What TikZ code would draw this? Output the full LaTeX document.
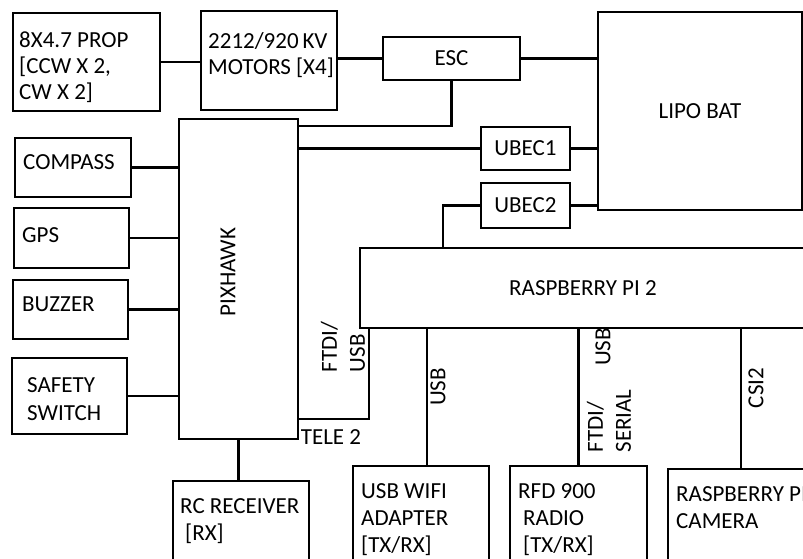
\documentclass[tikz,border=0pt]{standalone}
\usepackage{fontspec}
\setmainfont{Carlito}
\usetikzlibrary{calc}
\usetikzlibrary{positioning}

\begin{document}
\begin{tikzpicture}[x=1pt,y=-1pt,
    every node/.style={font=\fontsize{23}{26}\selectfont},
    blk/.style={draw, line width=2pt, anchor=north west, inner sep=0pt},
    txt/.style={anchor=north west, align=left, inner sep=0pt},
    side/.style={rotate=90, align=left, inner sep=0pt, font=\fontsize{23}{28}\selectfont},
    wire/.style={line width=2.6pt}]
                \useasboundingbox (0,0) rectangle (803,559);
                \clip (0,0) rectangle (803,559);
                % boxes
                \node[blk, minimum width=147pt, minimum height=98pt] (prop) at (12,12) {};
                \node[blk, minimum width=136pt, minimum height=99pt] (motors) at (200,10) {};
                \node[blk, minimum width=137pt, minimum height=43pt] (esc) at (382,36) {ESC};
                \node[blk, minimum width=204pt, minimum height=198pt] (lipo) at (597,11) {LIPO BAT};
                \node[blk, minimum width=89pt, minimum height=43pt] (ubec1) at (480,126) {UBEC1};
                \node[blk, minimum width=89pt, minimum height=45pt] (ubec2) at (480,182) {UBEC2};
                \node[blk, minimum width=119pt, minimum height=320pt] (pix) at (178,118) {};
                \node[blk, minimum width=116pt, minimum height=59pt] (compass) at (14,137) {};
                \node[blk, minimum width=115pt, minimum height=60pt] (gps) at (13,207) {};
                \node[blk, minimum width=115pt, minimum height=59pt] (buzzer) at (12,279) {};
                \node[blk, minimum width=115pt, minimum height=76pt] (safety) at (11,357) {};
                \node[blk, minimum width=446pt, minimum height=80pt] (rpi) at (359,247) {RASPBERRY PI 2};
                \node[blk, minimum width=136pt, minimum height=100pt] (rc) at (172,480) {};
                \node[blk, minimum width=136pt, minimum height=100pt] (wifi) at (352,465) {};
                \node[blk, minimum width=137pt, minimum height=100pt] (rfd) at (509,465) {};
                \node[blk, minimum width=146pt, minimum height=100pt] (cam) at (667,468) {};
                % box texts
                \node[txt] (propt) at (19,32) {8X4.7 PROP\\{}[CCW X 2,\\CW X 2]};
                \node[txt] (motorst) at (208,32) {2212/920\,KV\\MOTORS [X4]};
                \node[txt] (compasst) at (23,154) {COMPASS};
                \node[txt] (gpst) at (22,227) {GPS};
                \node[txt] (buzzert) at (22,297) {BUZZER};
                \node[txt, font=\fontsize{23}{28}\selectfont] (safetyt) at (27,377) {SAFETY\\SWITCH};
                \node[rotate=90, inner sep=0pt] (pixt) at (228,272) {PIXHAWK};
                \node[txt, font=\fontsize{23}{27}\selectfont] (rct) at (180,498) {RC RECEIVER\\\hspace*{5pt}[RX]};
                \node[txt, font=\fontsize{23}{27}\selectfont] (wifit) at (361,483) {USB WIFI\\ADAPTER\\{}[TX/RX]};
                \node[txt, font=\fontsize{23}{27}\selectfont] (rfdt) at (518,483) {RFD 900\\\hspace*{5pt}RADIO\\\hspace*{5pt}[TX/RX]};
                \node[txt, font=\fontsize{23}{27}\selectfont] (camt) at (676,486) {RASPBERRY PI\\CAMERA};
                % links
                \draw[wire] (prop.east) -- (prop.east -| motors.west);
                \draw[wire] (motors.east |- esc.west) -- (esc.west);
                \draw[wire] (esc.east) -- (esc.east -| lipo.west);
                \draw[wire] (esc.south) |- ([yshift=-8pt]pix.north east);
                \draw[wire] (pix.east |- ubec1.west) -- (ubec1.west);
                \draw[wire] (ubec1.east) -- (ubec1.east -| lipo.west);
                \draw[wire] (ubec2.east) -- (ubec2.east -| lipo.west);
                \draw[wire] (ubec2.west) -| ([xshift=84pt]rpi.north west);
                \draw[wire] (compass.east) -- (compass.east -| pix.west);
                \draw[wire] (gps.east) -- (gps.east -| pix.west);
                \draw[wire] (buzzer.east) -- (buzzer.east -| pix.west);
                \draw[wire] (safety.east) -- (safety.east -| pix.west);
                \draw[wire] ([xshift=10pt]rpi.south west) |- ([yshift=21pt]pix.south east);
                \draw[wire] (pix.south) -- (pix.south |- rc.north);
                \coordinate (wifiup) at ([xshift=6pt]wifi.north);
                \draw[wire] (wifiup) -- (wifiup |- rpi.south);
                \draw[wire] (rfd.north) -- (rfd.north |- rpi.south);
                \draw[wire] (cam.north) -- (cam.north |- rpi.south);
                % link labels
                \node[side] (ftdiusb) at (343,347) {FTDI/\\USB};
                \node[inner sep=0pt] (tele) at (331,437) {TELE 2};
                \node[side] (usbwifi) at (438,387) {USB};
                \node[side] (usbrfd) at (603,347) {USB};
                \node[side] (ftdiser) at (609,421) {FTDI/\\SERIAL};
                \node[side] (csi) at (756,388) {CSI2};
            \end{tikzpicture}
\end{document}
